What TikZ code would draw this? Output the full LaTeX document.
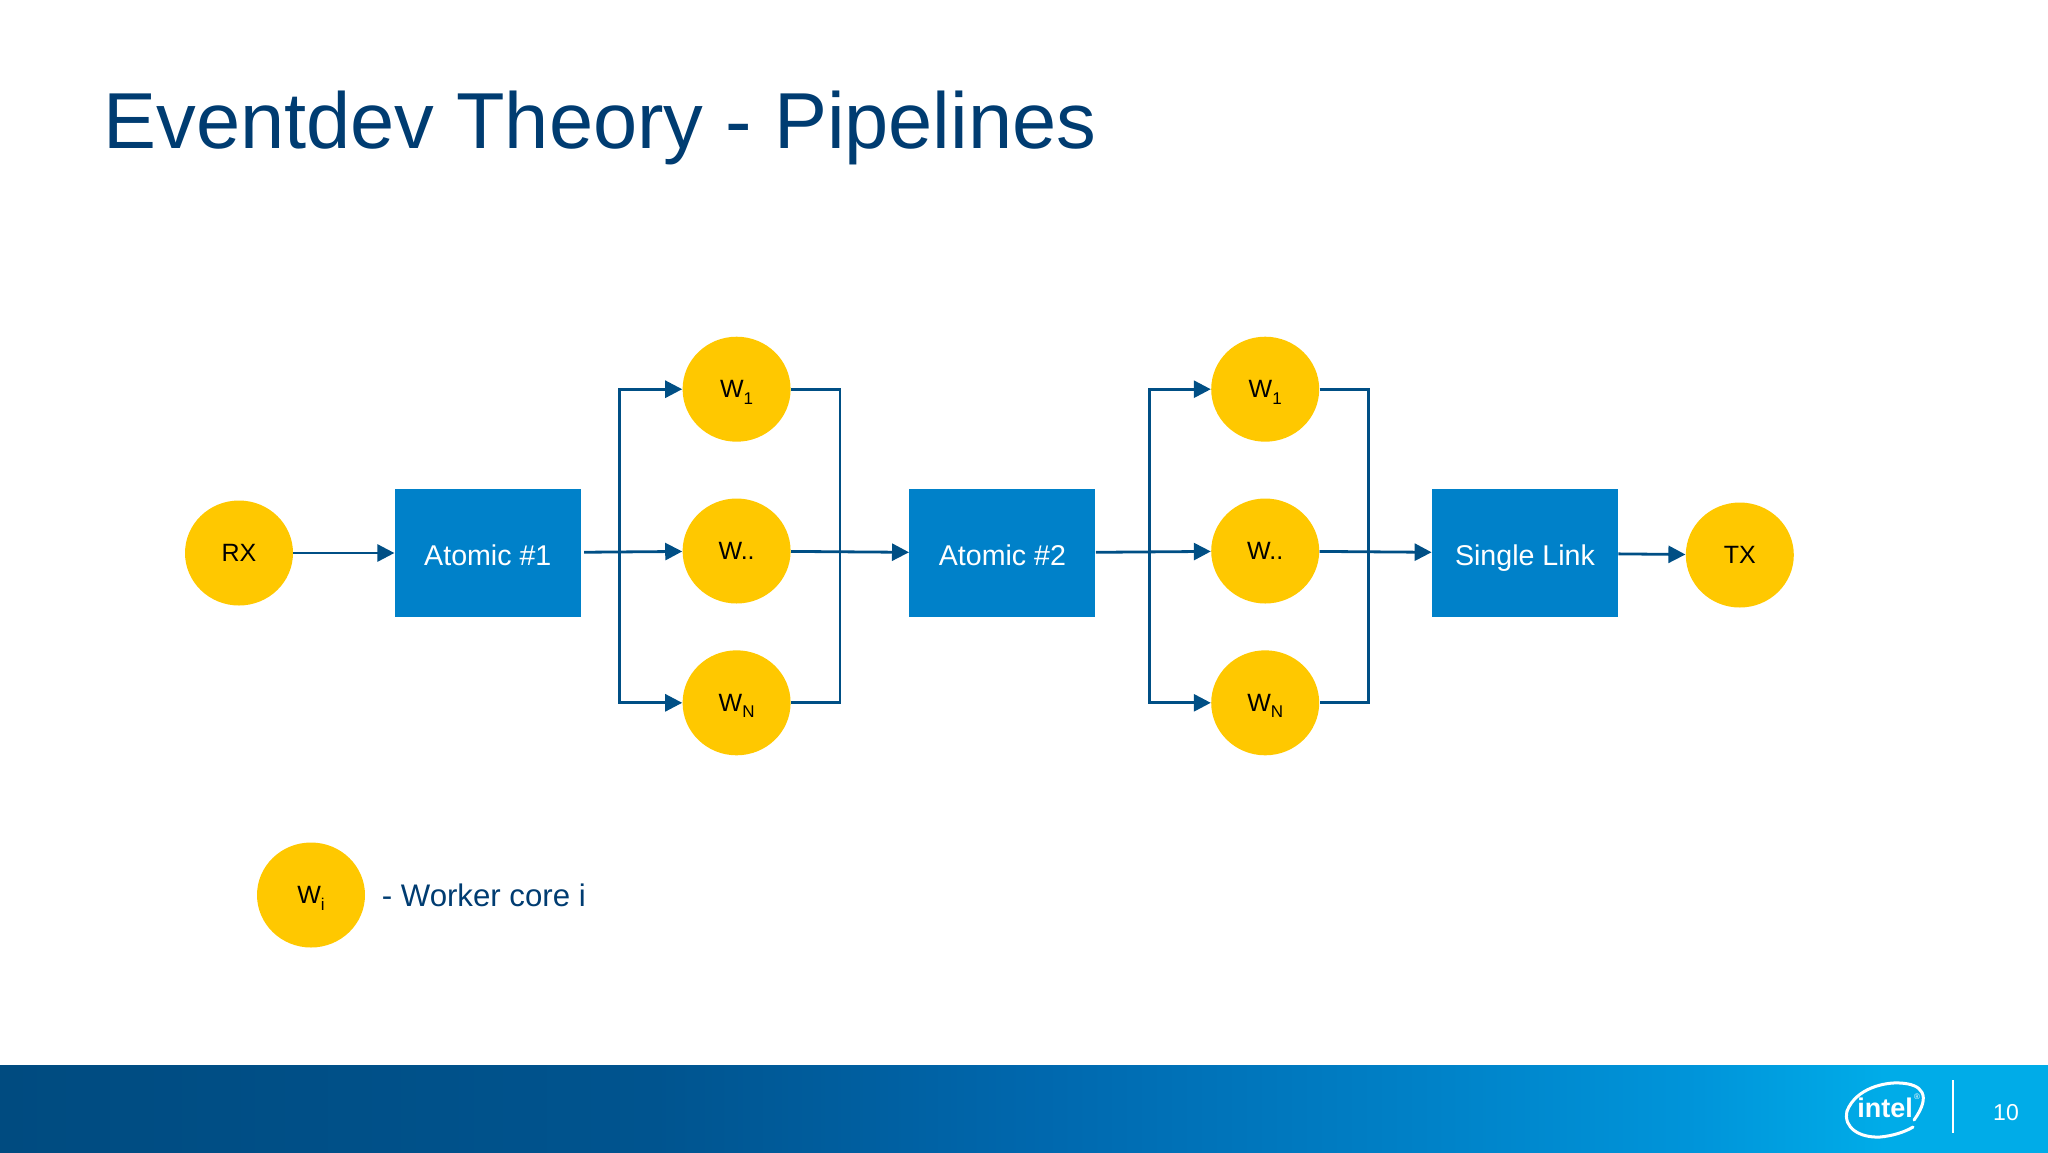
\documentclass[tikz,border=0pt]{standalone}
\usepackage{fontspec}
\setmainfont{Liberation Sans}
\usetikzlibrary{positioning,arrows.meta,shapes.geometric}
\definecolor{titleblue}{HTML}{003C71}
\definecolor{linkblue}{HTML}{004F85}
\definecolor{boxblue}{HTML}{0081C9}
\definecolor{coreyellow}{HTML}{FFC800}
\definecolor{banda}{HTML}{004B80}
\definecolor{bandb}{HTML}{00548F}
\definecolor{bandc}{HTML}{0068AE}
\definecolor{bandd}{HTML}{0082C8}
\definecolor{bande}{HTML}{0095DA}
\definecolor{bandf}{HTML}{00ACE8}
\pgfdeclarehorizontalshading{bandshade}{100bp}{color(0bp)=(banda); color(25bp)=(banda); color(41bp)=(bandb); color(50.5bp)=(bandc); color(60bp)=(bandd); color(66.5bp)=(bande); color(71bp)=(bandf); color(100bp)=(bandf)}
\newcommand{\wsub}[1]{W\smash{\raisebox{-3.2pt}{\fontsize{8.5}{9}\selectfont #1}}}
\tikzset{
    core/.style={ellipse, fill=coreyellow, minimum width=54pt, minimum height=52.5pt, inner sep=0pt, font=\fontsize{12.5}{15}\selectfont},
    stage/.style={rectangle, fill=boxblue, text=white, minimum width=93pt, minimum height=64pt, inner sep=0pt, text height=15.2pt, text depth=3pt, font=\fontsize{14.3}{17}\selectfont},
    link/.style={line width=1.4pt, linkblue},
    flow/.style={link, -{Triangle[length=8.5pt, width=8.5pt]}}
}
\begin{document}
\begin{tikzpicture}[x=0.5pt, y=-0.5pt, node distance=50.5pt]
    \useasboundingbox (0,0) rectangle (2048,1152);
    \shade[shading=bandshade] (0,1065) rectangle (2048,1152);

    \node[anchor=base west, inner sep=0pt, text=titleblue, font=\fontsize{39.7}{44}\selectfont] (title) at (103,148) {Eventdev Theory - Pipelines};

    \node[core] (rx) at (239,553) {RX};
    \node[stage, right=of rx] (atomica) {Atomic \#1};
    \node[core, right=of atomica, yshift=1pt] (wam) {W..};
    \node[core, above=28pt of wam] (wa1) {\wsub{1}};
    \node[core, below=23pt of wam] (wan) {\wsub{N}};
    \node[stage, right=59pt of wam, yshift=-1pt] (atomicb) {Atomic \#2};
    \node[core, right=57.5pt of atomicb, yshift=1pt] (wbm) {W..};
    \node[core, above=28pt of wbm] (wb1) {\wsub{1}};
    \node[core, below=23pt of wbm] (wbn) {\wsub{N}};
    \node[stage, right=56pt of wbm, yshift=-1pt] (single) {Single Link};
    \node[core, right=33.5pt of single, yshift=-1pt] (tx) {TX};

    \coordinate[right=19pt of atomica.east] (splita);
    \coordinate[right=24.5pt of wam.east] (mergea);
    \coordinate[right=27pt of atomicb.east] (splitb);
    \coordinate[right=24.5pt of wbm.east] (mergeb);

    \path
        (rx) edge[flow] (atomica)
        (atomica) edge[flow, shorten <=1.5pt] (wam)
        (wam) edge[flow] (atomicb)
        (atomicb) edge[flow] (wbm)
        (wbm) edge[flow] (single)
        (single) edge[flow] (tx)
        ;
    \draw[flow] (splita) |- (wa1);
    \draw[flow] (splita) |- (wan);
    \draw[flow] (splitb) |- (wb1);
    \draw[flow] (splitb) |- (wbn);
    \draw[link] (wa1) -| (mergea) |- (wan);
    \draw[link] (wb1) -| (mergeb) |- (wbn);

    \node[core] (wi) at (311,895) {\wsub{i}};
    \node[right=8pt of wi, inner sep=0pt, text=titleblue, font=\fontsize{15.6}{18}\selectfont] (legend) {- Worker core i};

    \node[anchor=base, inner sep=0pt, text=white, font=\bfseries\fontsize{13.5}{16}\selectfont] (logo) at (1885,1117) {intel};
    \node[inner sep=0pt, text=white, font=\fontsize{4}{5}\selectfont] (mark) at (1917,1097) {\textregistered};
    \draw[white, line width=1.5pt, line cap=round] (1847,1111) .. controls (1856,1088) and (1885,1082) .. (1900,1083) .. controls (1922,1084) and (1932,1095) .. (1914,1120);
    \draw[white, line width=1.5pt, line cap=round] (1847,1111) .. controls (1843,1128) and (1860,1138) .. (1880,1137) .. controls (1892,1136) and (1905,1132) .. (1913,1127);
    \draw[white, line width=0.9pt] (1953,1080) -- (1953,1133);
    \node[inner sep=0pt, text=white, font=\fontsize{11.5}{14}\selectfont] (page) at (2006,1113) {10};
\end{tikzpicture}
\end{document}
